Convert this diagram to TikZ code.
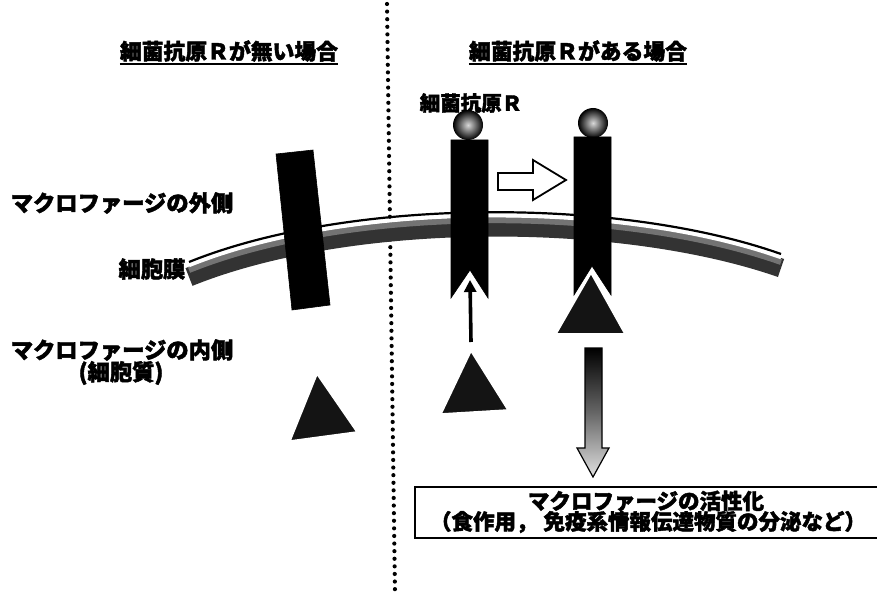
\documentclass[tikz,border=0pt]{standalone}
\usepackage{fontspec}
\setmainfont{Noto Sans CJK JP}[BoldFeatures={FakeBold=2}]
\usetikzlibrary{arrows.meta}
\begin{document}
\begin{tikzpicture}[x=1pt,y=-1pt,
  lbl/.style={inner sep=0pt, font=\fontsize{22.3}{24}\selectfont\bfseries},
  title/.style={lbl, font=\fontsize{21.8}{24}\selectfont\bfseries},
  boxtext/.style={inner sep=0pt, font=\fontsize{21.5}{24}\selectfont\bfseries},
  ulineS/.style={line width=2pt},
  divider/.style={line width=4.2pt, line cap=round, dash pattern=on 0pt off 7.6pt},
  receptor/.style={fill=black, draw=black, line width=0.6pt},
  ligand/.style={fill=black!92, draw=white, line width=1.6pt},
  antigen/.style={inner color=black!15, outer color=black},
  hollowarrow/.style={fill=white, draw=black, line width=1.8pt, line join=miter},
  bindarrow/.style={line width=3.6pt, -{Triangle[length=12pt, width=12pt]}},
  resultbox/.style={draw=black, line width=1.8pt},
]
\useasboundingbox (0,0) rectangle (877,596);
\clip (0,0) rectangle (877,596);

% ---- dividing dotted line ----
\coordinate (dtop) at (387,4);
\coordinate (dbot) at (395,594);
\draw[divider] (dtop) -- (dbot);

% ---- headings ----
\node[title] (tnone) at (229,51) {細菌抗原Ｒが無い場合};
\draw[ulineS] ([yshift=-2pt]tnone.south west) -- ([yshift=-2pt]tnone.south east);
\node[title] (thas) at (578,51) {細菌抗原Ｒがある場合};
\draw[ulineS] ([yshift=-2pt]thas.south west) -- ([yshift=-2pt]thas.south east);

% ---- left labels ----
\node[lbl] (outside) at (122,203) {マクロファージの外側};
\node[lbl] (memlbl) at (152,269) {細胞膜};
\node[lbl] (inside) at (122,350) {マクロファージの内側};
\node[lbl] (cyto) at (121,373) {(細胞質)};
\node[lbl, font=\fontsize{20.5}{24}\selectfont\bfseries] (antlbl) at (471,103) {細菌抗原Ｒ};

% ---- cell membrane ----
\draw[line width=19pt, black!80] (189,277) .. controls (350,212) and (620,212) .. (781,268);
\draw[line width=6pt, black!55] (189,270) .. controls (350,205) and (620,205) .. (781,262);
\draw[line width=3.5pt, white] (189,265.5) .. controls (350,200.5) and (620,200.5) .. (781,257.5);
\draw[line width=2.2pt, black] (189,262) .. controls (350,197) and (620,197) .. (781,254);

% ---- left panel: receptor and free ligand ----
\fill[receptor] (276,154) -- (313,150) -- (330,305) -- (292,310) -- cycle;
\filldraw[ligand] (317,374) -- (357,432) -- (290,441) -- cycle;

% ---- right panel: receptor before binding ----
\shade[antigen] (468,125) circle (15);
\fill[receptor] (451,140) -- (488,140) -- (488,298) -- (470,270) -- (451,298) -- cycle;
\filldraw[ligand] (471,351) -- (508,410) -- (441,414) -- cycle;
\coordinate (ligtop) at (471,342);
\coordinate (notchL) at (470,280);
\draw[bindarrow] (ligtop) -- (notchL);

% transition arrow
\filldraw[hollowarrow] (498,173) -- (533,173) -- (533,160) -- (566,180) -- (533,200) -- (533,190) -- (498,190) -- cycle;

% ---- right panel: receptor after binding ----
\shade[antigen] (593,123) circle (15);
\fill[receptor] (574,137) -- (611,137) -- (611,295) -- (592,266) -- (574,295) -- cycle;
\filldraw[ligand] (591,273) -- (625,334) -- (556,334) -- cycle;

% activation arrow
\shade[top color=black, bottom color=black!12, middle color=black!60, draw=black, line width=1.2pt]
  (585,348) -- (602,348) -- (602,448) -- (609,448) -- (593,477) -- (577,448) -- (585,448) -- cycle;

% ---- result box ----
\draw[resultbox] (415,487) rectangle (900,538);
\node[boxtext] (act) at (646,501) {マクロファージの活性化};
\node[boxtext] (actdet) at (648,522) {（食作用，\hspace{6pt}免疫系情報伝達物質の分泌など）};
\end{tikzpicture}
\end{document}
